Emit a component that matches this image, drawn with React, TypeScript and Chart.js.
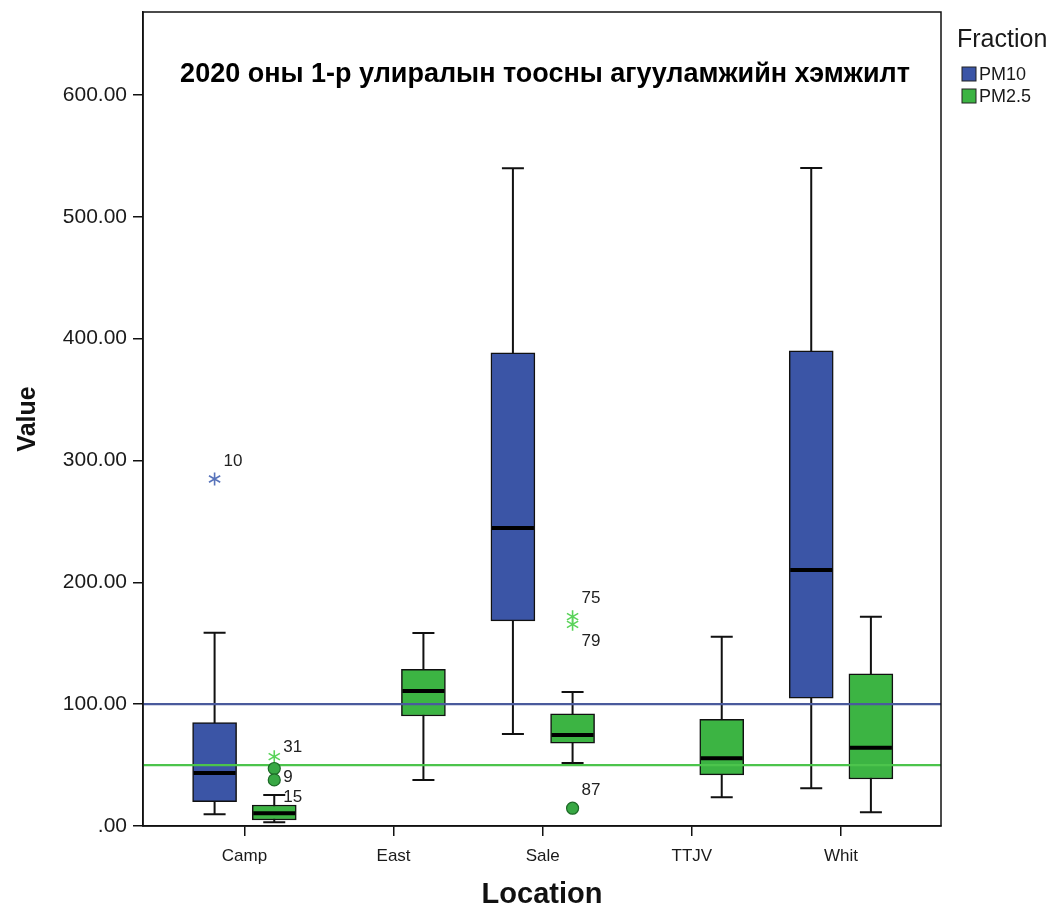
import React, { useEffect, useRef } from 'react';
import { Chart, registerables } from 'chart.js';

Chart.register(...registerables);

// ---------- data ----------
const categories = ['Camp', 'East', 'Sale', 'TTJV', 'Whit'];
const seriesNames = ['PM10', 'PM2.5'];

const pm10Min = [9.6, null, 75.5, null, 30.9];
const pm10Q1 = [20.0, null, 168.3, null, 104.8];
const pm10Median = [43.5, null, 244.5, null, 210.0];
const pm10Q3 = [84.8, null, 388.3, null, 390.0];
const pm10Max = [158.5, null, 539.7, null, 540.0];

const pm25Min = [3.0, 37.8, 51.7, 23.5, 11.2];
const pm25Q1 = [4.9, 90.3, 68.0, 41.9, 38.6];
const pm25Median = [10.4, 110.8, 74.7, 55.6, 64.3];
const pm25Q3 = [17.2, 128.5, 92.0, 87.6, 124.8];
const pm25Max = [25.4, 158.4, 110.0, 155.3, 171.8];

const outlierCategory = [0, 0, 0, 0, 0, 2, 2, 2];
const outlierSeries = [0, 1, 1, 1, 1, 1, 1, 1];
const outlierValue = [284.8, 56.9, 47.2, 37.8, 21.0, 171.8, 165.5, 14.6];
const outlierMarker = ['star', 'star', 'circle', 'circle', 'none', 'star', 'star', 'circle'];
const outlierLabel = ['10', '31', '', '9', '15', '75', '79', '87'];
const outlierLabelSide = ['up', 'upSide', 'side', 'side', 'side', 'up', 'down', 'up'];

const referenceLines = [100, 50];
const yTicks = [0, 100, 200, 300, 400, 500, 600];

const chartTitle = '2020 оны 1-р улиралын тоосны агууламжийн хэмжилт';
const legendTitle = 'Fraction';
const xTitle = 'Location';
const yTitle = 'Value';

// ---------- styles ----------
const FILL = ['#3b55a6', '#3cb443'];
const STAR = ['#5873ba', '#5ad35a'];
const REF_COLORS = ['#4a5a9c', '#4cc44c'];
const SERIES_OFFSET = [-0.2, 0.2];
const FONT = "'Liberation Sans', Arial, sans-serif";
const TEXT = '#1a1a1a';

const stats = [
  { min: pm10Min, q1: pm10Q1, med: pm10Median, q3: pm10Q3, max: pm10Max },
  { min: pm25Min, q1: pm25Q1, med: pm25Median, q3: pm25Q3, max: pm25Max },
];

const sideDy: Record<string, number> = { up: -18, upSide: -9, side: -3, down: 17 };

const boxPlugin = {
  id: 'boxExtras',
  beforeDatasetsDraw(chart: any) {
    const { ctx, scales } = chart;
    const xs = scales.x;
    const ys = scales.y;
    ctx.save();
    ctx.strokeStyle = '#111';
    ctx.lineWidth = 2;
    stats.forEach((s, si) => {
      categories.forEach((_, i) => {
        if (s.min[i] == null) return;
        const x = xs.getPixelForValue(i + SERIES_OFFSET[si]);
        const yMin = ys.getPixelForValue(s.min[i] as number);
        const yMax = ys.getPixelForValue(s.max[i] as number);
        ctx.beginPath();
        ctx.moveTo(x, yMin);
        ctx.lineTo(x, yMax);
        ctx.moveTo(x - 11, yMin);
        ctx.lineTo(x + 11, yMin);
        ctx.moveTo(x - 11, yMax);
        ctx.lineTo(x + 11, yMax);
        ctx.stroke();
      });
    });
    ctx.restore();
  },
  afterDatasetsDraw(chart: any) {
    const { ctx, scales, chartArea } = chart;
    const xs = scales.x;
    const ys = scales.y;
    ctx.save();
    // medians
    ctx.strokeStyle = '#000';
    ctx.lineWidth = 4;
    stats.forEach((s, si) => {
      categories.forEach((_, i) => {
        if (s.med[i] == null) return;
        const x = xs.getPixelForValue(i + SERIES_OFFSET[si]);
        const y = ys.getPixelForValue(s.med[i] as number);
        ctx.beginPath();
        ctx.moveTo(x - 21, y);
        ctx.lineTo(x + 21, y);
        ctx.stroke();
      });
    });
    // reference lines
    referenceLines.forEach((v, k) => {
      const y = ys.getPixelForValue(v);
      ctx.strokeStyle = REF_COLORS[k];
      ctx.lineWidth = 2.2;
      ctx.beginPath();
      ctx.moveTo(chartArea.left, y);
      ctx.lineTo(chartArea.right, y);
      ctx.stroke();
    });
    // outliers
    outlierValue.forEach((v, k) => {
      const si = outlierSeries[k];
      const x = xs.getPixelForValue(outlierCategory[k] + SERIES_OFFSET[si]);
      const y = ys.getPixelForValue(v);
      const m = outlierMarker[k];
      if (m === 'circle') {
        ctx.beginPath();
        ctx.arc(x, y, 6, 0, Math.PI * 2);
        ctx.fillStyle = '#38a844';
        ctx.fill();
        ctx.lineWidth = 1.2;
        ctx.strokeStyle = '#1d6a27';
        ctx.stroke();
      } else if (m === 'star') {
        ctx.strokeStyle = STAR[si];
        ctx.lineWidth = 1.6;
        const r = 6.5;
        ctx.beginPath();
        for (let a = 0; a < 3; a++) {
          const ang = Math.PI / 2 + (a * Math.PI) / 3;
          ctx.moveTo(x - r * Math.cos(ang), y - r * Math.sin(ang));
          ctx.lineTo(x + r * Math.cos(ang), y + r * Math.sin(ang));
        }
        ctx.stroke();
      }
      const lbl = outlierLabel[k];
      if (lbl) {
        ctx.fillStyle = '#222';
        ctx.font = `17px ${FONT}`;
        ctx.textAlign = 'left';
        ctx.textBaseline = 'middle';
        ctx.fillText(lbl, x + 9, y + sideDy[outlierLabelSide[k]]);
      }
    });
    // frame
    ctx.strokeStyle = '#111';
    ctx.lineWidth = 1.5;
    ctx.strokeRect(chartArea.left, chartArea.top, chartArea.right - chartArea.left, chartArea.bottom - chartArea.top);
    // title inside plot
    ctx.fillStyle = '#000';
    ctx.font = `bold 27px ${FONT}`;
    ctx.textAlign = 'center';
    ctx.textBaseline = 'middle';
    ctx.fillText(chartTitle, (chartArea.left + chartArea.right) / 2 + 3, chartArea.top + 63);
    // legend
    const lx = chartArea.right + 16;
    ctx.textAlign = 'left';
    ctx.fillStyle = TEXT;
    ctx.font = `25px ${FONT}`;
    ctx.fillText(legendTitle, lx, chartArea.top + 28);
    seriesNames.forEach((name, si) => {
      const cy = chartArea.top + 62 + si * 22;
      ctx.fillStyle = FILL[si];
      ctx.fillRect(lx + 5, cy - 7, 14, 14);
      ctx.strokeStyle = '#222';
      ctx.lineWidth = 1;
      ctx.strokeRect(lx + 5, cy - 7, 14, 14);
      ctx.fillStyle = TEXT;
      ctx.font = `18px ${FONT}`;
      ctx.fillText(name, lx + 22, cy + 1);
    });
    ctx.restore();
  },
};

export default function App() {
  const canvasRef = useRef<HTMLCanvasElement>(null);

  useEffect(() => {
    if (!canvasRef.current) return;
    const datasets = stats.map((s, si) => ({
      label: seriesNames[si],
      data: categories
        .map((_, i) => (s.q1[i] == null ? null : { x: i + SERIES_OFFSET[si], y: [s.q1[i], s.q3[i]] }))
        .filter((d) => d !== null),
      backgroundColor: FILL[si],
      borderColor: '#111',
      borderWidth: 1.5,
      borderSkipped: false,
      barThickness: 44,
      grouped: false,
    }));

    const chart = new Chart(canvasRef.current, {
      type: 'bar',
      data: { datasets: datasets as any },
      options: {
        animation: false,
        responsive: true,
        maintainAspectRatio: false,
        layout: { padding: { top: 4, right: 110, left: 0, bottom: 0 } },
        plugins: {
          legend: { display: false },
          tooltip: { enabled: false },
        },
        scales: {
          x: {
            type: 'linear',
            min: -0.68,
            max: 4.67,
            offset: false,
            afterBuildTicks: (axis: any) => {
              axis.ticks = categories.map((_, i) => ({ value: i }));
            },
            afterFit: (s: any) => {
              s.height = 81;
            },
            ticks: {
              callback: (v: any) => categories[v] ?? '',
              font: { family: FONT, size: 17 },
              color: TEXT,
              padding: 10,
              autoSkip: false,
              maxRotation: 0,
            },
            grid: { display: true, offset: false, drawOnChartArea: false, tickLength: 10, color: '#111', lineWidth: 1.5 },
            border: { display: true, color: '#111', width: 1.5 },
            title: {
              display: true,
              text: xTitle,
              font: { family: FONT, size: 29, weight: 'bold', lineHeight: 0.85 },
              color: '#111',
              padding: { top: 0, bottom: 0 },
            },
          },
          y: {
            min: 0,
            max: 668,
            afterBuildTicks: (axis: any) => {
              axis.ticks = yTicks.map((v) => ({ value: v }));
            },
            afterFit: (s: any) => {
              s.width = 135;
              s.paddingTop = 0;
            },
            ticks: {
              callback: (v: any) => (v === 0 ? '.00' : Number(v).toFixed(2)),
              font: { family: FONT, size: 21 },
              color: TEXT,
              padding: 6,
            },
            grid: { display: true, drawOnChartArea: false, tickLength: 10, color: '#111', lineWidth: 1.5 },
            border: { display: true, color: '#111', width: 1.5 },
            title: {
              display: true,
              text: yTitle,
              font: { family: FONT, size: 25, weight: 'bold' },
              color: '#111',
              padding: { top: 5, bottom: 0 },
            },
          },
        },
      },
      plugins: [boxPlugin],
    });
    return () => chart.destroy();
  }, []);

  return (
    <div style={{ position: 'relative', width: '100%', height: '899px' }}>
      <canvas ref={canvasRef} />
    </div>
  );
}
